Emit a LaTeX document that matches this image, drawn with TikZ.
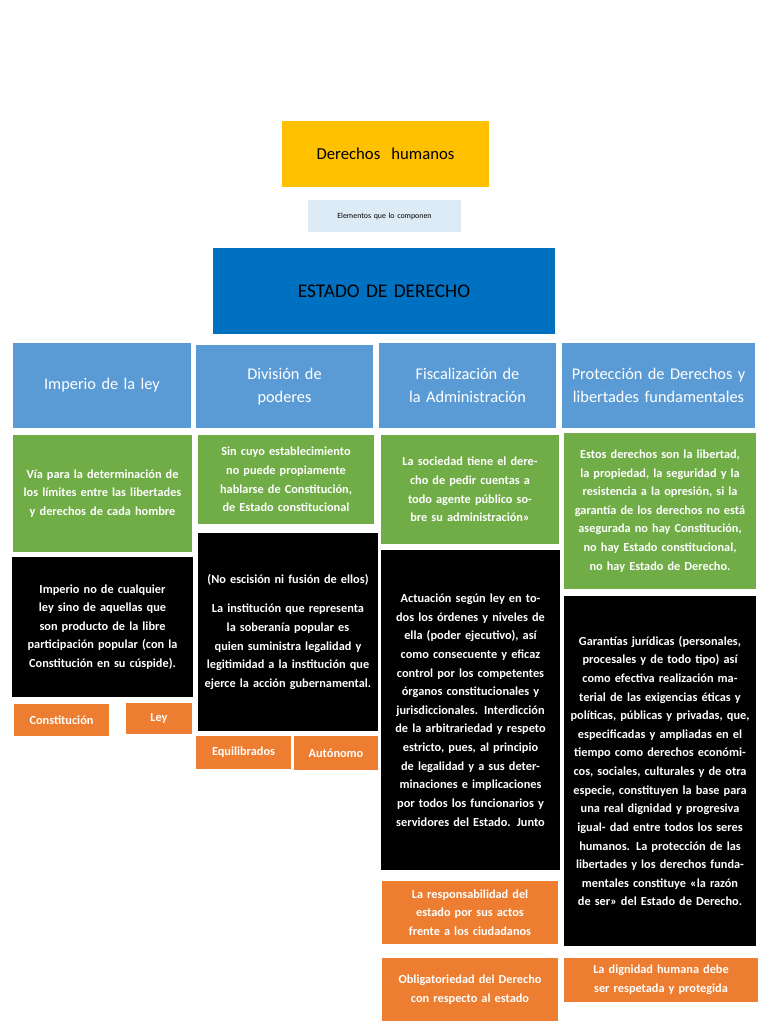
\documentclass[tikz,border=0pt]{standalone}
\usepackage{fontspec}
\setmainfont{Carlito}
\usepackage{tikz}

\newcommand{\caja}[7]{%
  \pgfmathsetmacro\cw{(#5-#3)*0.02}%
  \pgfmathsetmacro\ch{(#6-#4)*0.02}%
  \pgfmathsetmacro\tw{(#5-#3-12)*0.02}%
  \node[#2, minimum width=\cw cm, minimum height=\ch cm, text width=\tw cm] (#1) at ({(#3+#5)/2},{(#4+#6)/2}) {#7};}

\begin{document}
\begin{tikzpicture}[x=0.02cm, y=-0.02cm,
    caja/.style={%
        inner sep=0pt,
        align=center,
        font=\fontsize{7}{10.6}\selectfont
    },
    yellowbox/.style={caja, fill={rgb,255:red,255;green,192;blue,0}, font=\fontsize{9.5}{12}\selectfont},
    labelbox/.style={caja, fill={rgb,255:red,221;green,235;blue,247}, font=\fontsize{4.5}{6}\selectfont},
    titlebox/.style={caja, fill={rgb,255:red,0;green,112;blue,192}, font=\fontsize{11}{13}\selectfont},
    header/.style={caja, fill={rgb,255:red,91;green,155;blue,213}, text=white, font=\fontsize{9.3}{13.5}\selectfont},
    greenbox/.style={caja, fill={rgb,255:red,112;green,173;blue,71}, text=white, font=\bfseries\fontsize{7}{10.6}\selectfont},
    blackbox/.style={caja, fill=black, text=white, font=\bfseries\fontsize{7}{10.6}\selectfont},
    orangebox/.style={caja, fill={rgb,255:red,237;green,125;blue,49}, text=white, font=\bfseries\fontsize{7}{10.6}\selectfont}
]
\useasboundingbox[fill=white] (0,0) rectangle (768,1024);

% Top
\caja{derechos}{yellowbox}{282}{121}{489}{187}{Derechos\ \ humanos}
\caja{elementos}{labelbox}{308}{200}{461}{232}{Elementos que lo componen}
\caja{estado}{titlebox}{213}{248}{555}{334}{ESTADO DE DERECHO}

% Headers
\caja{imperio}{header}{13}{343}{191}{428}{Imperio de la ley}
\caja{division}{header}{196}{345}{373}{428}{División de\\poderes}
\caja{fiscal}{header}{379}{343}{556}{428}{Fiscalización de la Administración}
\caja{proteccion}{header}{562}{343}{755}{428}{Protección de Derechos y libertades fundamentales}

% Green
\caja{imperioA}{greenbox}{13}{435}{192}{552}{Vía para la determinación de los límites entre las libertades y derechos de cada hombre}
\caja{divisionA}{greenbox}{198}{435}{374}{524}{Sin cuyo establecimiento no puede propiamente hablarse de Constitución, de Estado constitucional}
\caja{fiscalA}{greenbox}{381}{435}{559}{544}{La sociedad tiene el derecho de pedir cuentas a todo agente público sobre su administración»}
\caja{proteccionA}{greenbox}{564}{433}{756}{589}{Estos derechos son la libertad, la propiedad, la seguridad y la resistencia a la opresión, si la garantía de los derechos no está asegurada no hay Constitución, no hay Estado constitucional, no hay Estado de Derecho.}

% Black
\caja{imperioB}{blackbox}{12}{557}{193}{697}{Imperio no de cualquier ley sino de aquellas que son producto de la libre participación popular (con la Constitución en su cúspide).}
\caja{divisionB}{blackbox}{198}{533}{378}{731}{(No escisión ni fusión de ellos)\\[6pt]La institución que representa la soberanía popular es quien suministra legalidad y legitimidad a la institución que ejerce la acción gubernamental.}
\caja{fiscalB}{blackbox}{381}{550}{560}{870}{Actuación según ley en todos los órdenes y niveles de ella (poder ejecutivo), así como consecuente y eficaz control por los competentes órganos constitucionales y jurisdiccionales. Interdicción de la arbitrariedad y respeto estricto, pues, al principio de legalidad y a sus determinaciones e implicaciones por todos los funcionarios y servidores del Estado. Junto}
\caja{proteccionB}{blackbox}{564}{596}{756}{946}{Garantías jurídicas (personales, procesales y de todo tipo) así como efectiva realización material de las exigencias éticas y políticas, públicas y privadas, que, especificadas y ampliadas en el tiempo como derechos económicos, sociales, culturales y de otra especie, constituyen la base para una real dignidad y progresiva igual- dad entre todos los seres humanos. La protección de las libertades y los derechos fundamentales constituye «la razón de ser» del Estado de Derecho.}

% Orange
\caja{constitucion}{orangebox}{14}{704}{109}{736}{Constitución}
\caja{ley}{orangebox}{126}{703}{192}{734}{Ley}
\caja{equilibrados}{orangebox}{196}{736}{291}{769}{Equilibrados}
\caja{autonomo}{orangebox}{294}{736}{378}{770}{Autónomo}
\caja{responsabilidad}{orangebox}{382}{881}{558}{944}{La responsabilidad del estado por sus actos frente a los ciudadanos}
\caja{obligatoriedad}{orangebox}{382}{958}{558}{1021}{Obligatoriedad del Derecho con respecto al estado}
\caja{dignidad}{orangebox}{564}{958}{758}{1002}{La dignidad humana debe ser respetada y protegida}

\end{tikzpicture}
\end{document}
